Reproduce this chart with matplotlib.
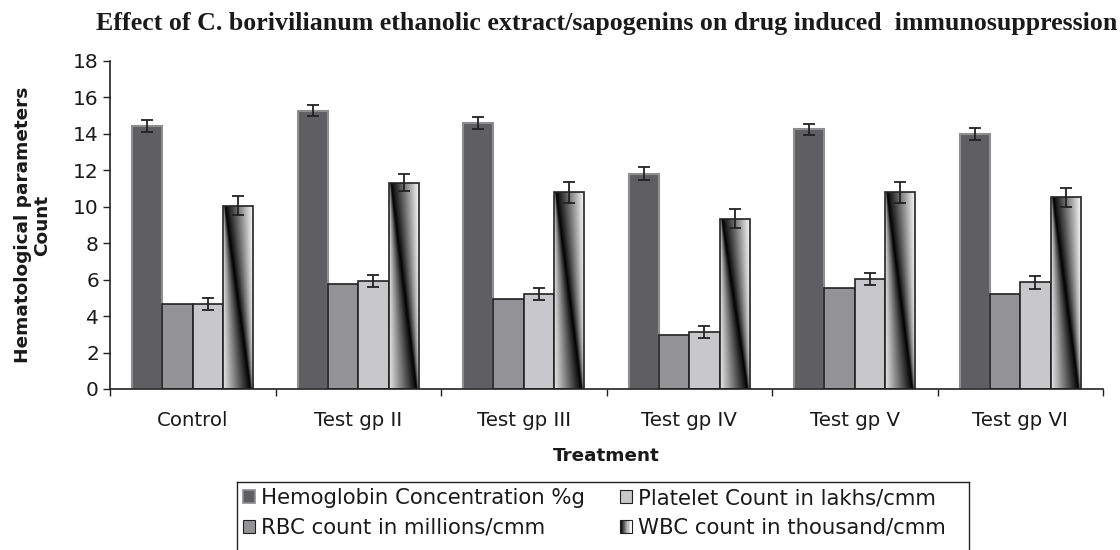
import matplotlib
matplotlib.use("Agg")
import matplotlib.pyplot as plt
import numpy as np
from matplotlib.patches import Rectangle, Polygon
from matplotlib.lines import Line2D
from matplotlib.legend_handler import HandlerBase

plt.rcParams["font.family"] = ["DejaVu Sans"]

groups = ["Control", "Test gp II", "Test gp III", "Test gp IV", "Test gp V", "Test gp VI"]
series = ["Hemoglobin Concentration %g", "RBC count in millions/cmm",
          "Platelet Count in lakhs/cmm", "WBC count in thousand/cmm"]

hemoglobin = [14.43, 15.27, 14.59, 11.82, 14.25, 13.99]
hemoglobin_err = [0.33, 0.29, 0.32, 0.34, 0.31, 0.33]
rbc = [4.67, 5.75, 4.95, 2.96, 5.57, 5.20]
platelet = [4.67, 5.93, 5.22, 3.14, 6.03, 5.85]
platelet_err = [0.32, 0.34, 0.33, 0.32, 0.33, 0.36]
wbc = [10.07, 11.33, 10.79, 9.35, 10.79, 10.52]
wbc_err = [0.50, 0.49, 0.56, 0.51, 0.56, 0.51]

INK = "#222222"
TXT = "#1a1a1a"
HB_FACE, HB_EDGE = "#5f5f61", "#8e8e90"
RBC_FACE = "#939396"
PLT_FACE = "#c8c8ca"


def stripe_gradient(n=80):
    # diagonal gradient: black stripe from top-left to bottom-right, fading to white
    u = np.linspace(0, 1, n)[None, :]
    v = np.linspace(0, 1, 2 * n)[:, None]  # 0 = top, 1 = bottom
    s = 0.05 + 0.85 * v
    left = np.clip((s - u) / np.maximum(s, 1e-3), 0, 1)
    right = np.clip((u - s) / np.maximum(1 - s, 1e-3), 0, 1)
    return np.where(u < s, left * 0.9, right)


class GradientHandler(HandlerBase):
    def create_artists(self, legend, orig_handle, xdescent, ydescent, width, height, fontsize, trans):
        arts = []
        n = 10
        for k in range(n):
            g = k / (n - 1)
            x0 = -xdescent + width * k / n
            x1 = -xdescent + width * (k + 1) / n
            poly = Polygon([[x0, -ydescent], [x1, -ydescent], [x1, -ydescent + height],
                            [x0, -ydescent + height]], closed=True,
                           facecolor=str(min(0.08 + g, 1.0)), edgecolor="none", transform=trans)
            arts.append(poly)
        arts.append(Rectangle((-xdescent, -ydescent), width, height, facecolor="none",
                              edgecolor=INK, lw=0.8, transform=trans))
        return arts


fig = plt.figure(figsize=(11.2, 5.5), dpi=100)
ax = fig.add_axes([110 / 1120, 1 - 389 / 550, (1103 - 110) / 1120, (389 - 61) / 550])

x = np.arange(len(groups))
w = 0.183
ekw = dict(ecolor=INK, elinewidth=1.3, capsize=4.3, capthick=1.3)

ax.bar(x - 1.5 * w, hemoglobin, w, yerr=hemoglobin_err, color=HB_FACE,
       edgecolor=HB_EDGE, linewidth=1.5, error_kw=ekw, zorder=2)
ax.bar(x - 0.5 * w, rbc, w, color=RBC_FACE, edgecolor=INK, linewidth=1.2, zorder=2)
ax.bar(x + 0.5 * w, platelet, w, yerr=platelet_err, color=PLT_FACE,
       edgecolor=INK, linewidth=1.2, error_kw=ekw, zorder=2)
wbc_bars = ax.bar(x + 1.5 * w, wbc, w, yerr=wbc_err, color="none",
                  edgecolor=INK, linewidth=1.2, error_kw=ekw, zorder=3)

grad = stripe_gradient()
for b in wbc_bars:
    x0, y0 = b.get_x(), b.get_y()
    im = ax.imshow(grad, cmap="gray", vmin=0, vmax=1, aspect="auto", interpolation="bilinear",
                   extent=[x0, x0 + b.get_width(), y0, y0 + b.get_height()], zorder=2)
    im.set_clip_path(b)

ax.set_xlim(-0.5, len(groups) - 0.5)
ax.set_ylim(0, 18)
ax.set_yticks(np.arange(0, 19, 2))
ax.set_xticks(x)
ax.set_xticklabels(groups)
ax.set_xticks(np.arange(-0.5, len(groups)), minor=True)
ax.tick_params(axis="x", which="major", length=0, pad=16, labelsize=14.2, colors=TXT)
ax.tick_params(axis="x", which="minor", length=5, width=1, color=INK)
ax.tick_params(axis="y", length=5, width=1, pad=3, labelsize=14.5, color=INK, labelcolor=TXT)
for side in ("top", "right"):
    ax.spines[side].set_visible(False)
for side in ("left", "bottom"):
    ax.spines[side].set_color(INK)
    ax.spines[side].set_linewidth(1.2)

ax.set_xlabel("Treatment", fontsize=13.2, fontweight="bold", labelpad=12, color=TXT)
ax.set_ylabel("Hematological parameters\nCount", fontsize=13.3, fontweight="bold",
              labelpad=16, linespacing=1.05, color=TXT)
ax.set_title("Effect of C. borivilianum ethanolic extract/sapogenins on drug induced  immunosuppression",
             fontsize=18.6, fontweight="bold", family=["Liberation Serif", "DejaVu Serif"],
             pad=22, color=TXT)

hb_h = Rectangle((0, 0), 1, 1, facecolor=HB_FACE, edgecolor=HB_EDGE, lw=1.2)
rbc_h = Rectangle((0, 0), 1, 1, facecolor=RBC_FACE, edgecolor=INK, lw=0.8)
plt_h = Rectangle((0, 0), 1, 1, facecolor=PLT_FACE, edgecolor=INK, lw=0.8)
wbc_h = Rectangle((0, 0), 1, 1, facecolor="white", edgecolor=INK, lw=0.8)
leg = fig.legend([hb_h, rbc_h, plt_h, wbc_h], series, ncol=2, loc="upper left",
                 bbox_to_anchor=(237 / 1120, 1 - 482 / 550), frameon=False,
                 fontsize=15.3, handlelength=0.55, handleheight=0.55, handletextpad=0.3,
                 columnspacing=1.65, labelspacing=0.45, borderpad=0.3, borderaxespad=0,
                 handler_map={wbc_h: GradientHandler()}, labelcolor=TXT)

# legend box runs off the bottom of the figure, so only top/left/right edges show
lx0, lx1, ly = 237 / 1120, 969 / 1120, 1 - 482 / 550
for xs, ys in [((lx0, lx1), (ly, ly)), ((lx0, lx0), (ly, -0.05)), ((lx1, lx1), (ly, -0.05))]:
    fig.add_artist(Line2D(xs, ys, color=INK, lw=1.0, transform=fig.transFigure))

fig.savefig("out.png", dpi=100)
